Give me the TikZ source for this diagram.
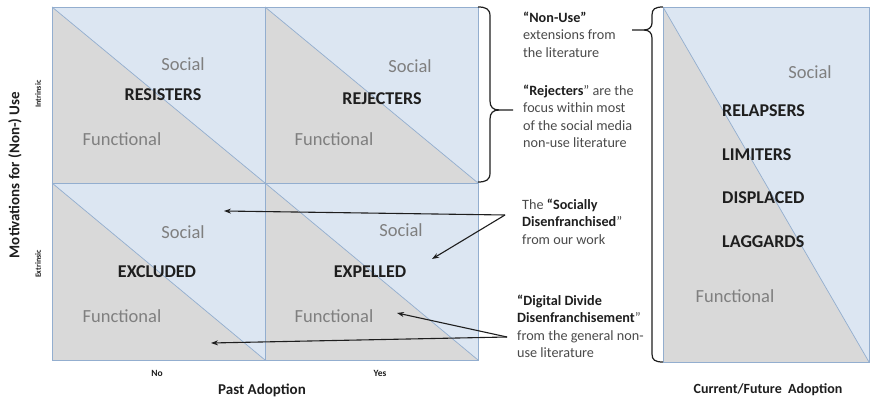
\documentclass[tikz,border=0pt]{standalone}
\usepackage{fontspec}
\setmainfont{Carlito}
\usetikzlibrary{arrows.meta}

\definecolor{cellblue}{HTML}{DCE6F2}
\definecolor{cellgrey}{HTML}{D9D9D9}
\definecolor{edgeblue}{HTML}{93AECF}
\definecolor{labelgrey}{HTML}{7F7F7F}
\definecolor{ink}{HTML}{1E1E1E}
\definecolor{notegrey}{HTML}{4A4A4A}

\begin{document}
\begin{tikzpicture}[x=1pt,y=-1pt,
  facet/.style={font=\fontsize{18.5}{20}\selectfont, text=labelgrey, inner sep=0},
  group/.style={font=\bfseries\fontsize{18}{20}\selectfont, text=ink, inner sep=0},
  panelgroup/.style={group, anchor=west},
  note/.style={font=\fontsize{14.2}{17.3}\selectfont, text=notegrey, align=left, anchor=north west, inner sep=0},
  axistitle/.style={font=\bfseries\fontsize{15}{18}\selectfont, text=ink, inner sep=0},
  axistick/.style={font=\bfseries\fontsize{8}{10}\selectfont, text=ink, inner sep=0},
  pointer/.style={-{Stealth[length=7pt,width=5pt]}, line width=1.1pt, ink},
  bracket/.style={line width=1.2pt, ink, line join=round},
  edge/.style={edgeblue, line width=0.9pt},
]
\useasboundingbox (0,0) rectangle (870,403);

% ---- 2x2 grid of past adoption vs. motivation ----
\foreach \xa/\ya/\xb/\yb in {52/7/265/183, 265/7/478/183, 52/183/265/360, 265/183/478/360} {
  \fill[cellblue] (\xa,\ya) rectangle (\xb,\yb);
  \fill[cellgrey] (\xa,\ya) -- (\xb,\yb) -- (\xa,\yb) -- cycle;
  \draw[edge, line width=0.7pt] (\xa,\ya) -- (\xb,\yb);
}
\draw[edge] (52,7) rectangle (478,360);
\draw[edge] (265,7) -- (265,360);
\draw[edge] (52,183) -- (478,183);

% cell texts
\node[facet] (s11) at (183,64) {Social};
\node[group] (resisters) at (163,95) {RESISTERS};
\node[facet] (f11) at (122,139) {Functional};

\node[facet] (s12) at (410,66) {Social};
\node[group] (rejecters) at (382,99) {REJECTERS};
\node[facet] (f12) at (334,139) {Functional};

\node[facet] (s21) at (183,232) {Social};
\node[group] (excluded) at (157,272) {EXCLUDED};
\node[facet] (f21) at (122,316) {Functional};

\node[facet] (s22) at (401,230) {Social};
\node[group] (expelled) at (370,272) {EXPELLED};
\node[facet] (f22) at (334,316) {Functional};

% axes of the grid
\node[axistitle, rotate=90] (motiv) at (15,175) {Motivations for (Non-) Use};
\node[axistick, rotate=90] (intr) at (38,94) {Intrinsic};
\node[axistick, rotate=90] (extr) at (38,264) {Extrinsic};
\node[axistick, font=\bfseries\fontsize{9.5}{11}\selectfont] (no) at (157,373) {No};
\node[axistick, font=\bfseries\fontsize{9.5}{11}\selectfont] (yes) at (380,373) {Yes};
\node[axistitle] (past) at (262,390) {Past Adoption};

% ---- current / future adoption panel ----
\fill[cellblue] (663,7) rectangle (869,362);
\fill[cellgrey] (663,7) -- (869,362) -- (663,362) -- cycle;
\draw[edge, line width=0.7pt] (663,7) -- (869,362);
\draw[edge] (663,7) rectangle (869,362);

\node[facet] (s3) at (810,72) {Social};
\node[panelgroup] (relapsers) at (722,111) {RELAPSERS};
\node[panelgroup] (limiters) at (722,155) {LIMITERS};
\node[panelgroup] (displaced) at (722,198) {DISPLACED};
\node[panelgroup] (laggards) at (722,242) {LAGGARDS};
\node[facet] (f3) at (735,296) {Functional};
\node[axistitle, font=\bfseries\fontsize{14}{17}\selectfont] (current) at (768,390) {Current/Future\ \ Adoption};

% ---- brackets ----
\draw[bracket] (478,7) .. controls (486,7) and (490,9) .. (490,16) -- (490,101)
  .. controls (490,107) and (493,110) .. (499,110) -- (513,110);
\draw[bracket] (499,110) .. controls (493,110) and (490,113) .. (490,119) -- (490,173)
  .. controls (490,180) and (486,182) .. (478,182);

\draw[bracket] (663,7) .. controls (655,7) and (652,9) .. (652,15) -- (652,23)
  .. controls (652,27) and (649,30) .. (644,30) -- (632,30);
\draw[bracket] (644,30) .. controls (649,30) and (652,33) .. (652,38) -- (652,354)
  .. controls (652,360) and (655,362) .. (663,362);

% ---- notes ----
\node[note] (nonuse) at (523,12) {\textbf{\color{ink}“Non-Use”}\\extensions from\\the literature};
\node[note] (rejnote) at (523,85) {\textbf{\color{ink}“Rejecters}”~are the\\focus within most\\of the social media\\non-use literature};
\node[note] (socnote) at (522,199) {The \textbf{\color{ink}“Socially}\\\textbf{\color{ink}Disenfranchised}”\\from our work};
\node[note] (ddnote) at (517,295) {\textbf{\color{ink}“Digital Divide}\\\textbf{\color{ink}Disenfranchisement}”\\from the general non-\\use literature};

% ---- pointers ----
\coordinate (socfrom) at (505,215);
\coordinate (socexcl) at (224,211);
\coordinate (socexpl) at (432,259);
\coordinate (ddfrom) at (507,337);
\coordinate (ddexcl) at (211,343);
\coordinate (ddexpl) at (397,313);

\draw[pointer] (socfrom) -- (socexcl);
\draw[pointer] (socfrom) -- (socexpl);
\draw[pointer] (ddfrom) -- (ddexcl);
\draw[pointer] (ddfrom) -- (ddexpl);
\end{tikzpicture}
\end{document}
